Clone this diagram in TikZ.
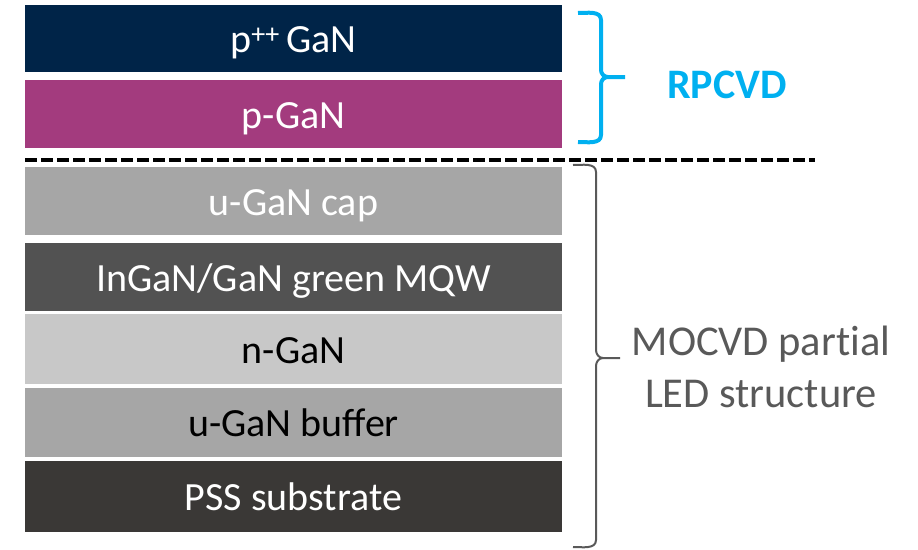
\documentclass[tikz,border=0pt]{standalone}
\usepackage{fontspec}
\setmainfont{Carlito}
\usepackage{tikz}
\usetikzlibrary{positioning, calc}
\usepackage{xcolor}
\definecolor{navy}{RGB}{0,36,72}
\definecolor{plum}{RGB}{163,59,126}
\definecolor{capgray}{RGB}{166,166,166}
\definecolor{mqwgray}{RGB}{82,82,82}
\definecolor{ngray}{RGB}{200,200,200}
\definecolor{pssgray}{RGB}{58,56,54}
\definecolor{rpblue}{RGB}{0,176,240}
\definecolor{labelgray}{RGB}{89,89,89}

\begin{document}
\begin{tikzpicture}[x=1pt, y=-1pt,
  layer/.style={rectangle, inner sep=0pt, minimum width=537pt, text height=34pt, text depth=6pt,
    font=\fontsize{40}{46}\selectfont},
  divider/.style={line width=3.5pt, dash pattern=on 12pt off 4pt},
  bracket/.style={line width=#1, line join=round}]
  \useasboundingbox (0,0) rectangle (918,549);
  % RPCVD layers
  \node[layer, fill=navy, text=white, minimum height=67pt] (ppp) at (293.5,38.5) {p\textsuperscript{++}\,GaN};
  \node[layer, fill=plum, text=white, minimum height=68pt] (pgan) at (293.5,114) {p-GaN};
  \draw[divider] (25,160) -- (815,160);
  % MOCVD layers
  \node[layer, fill=capgray, text=white, minimum height=68pt] (cap) at (293.5,201) {u-GaN cap};
  \node[layer, fill=mqwgray, text=white, minimum height=68pt] (mqw) at (293.5,277) {InGaN/GaN green MQW};
  \node[layer, fill=ngray, text=black, minimum height=70pt] (ngan) at (293.5,349) {n-GaN};
  \node[layer, fill=capgray, text=black, minimum height=69pt] (buffer) at (293.5,422.5) {u-GaN buffer};
  \node[layer, fill=pssgray, text=white, minimum height=71pt] (pss) at (293.5,496.5) {PSS substrate};
  % brackets
  \draw[bracket=4pt, rpblue] (578,13) to[out=0, in=90] (601,20) -- (601,70) to[out=-90, in=180] (608,77) -- (625,77);
  \draw[bracket=4pt, rpblue] (578,142) to[out=0, in=-90] (601,135) -- (601,84) to[out=90, in=180] (608,77);
  \draw[bracket=2pt, labelgray] (573,165) to[out=0, in=90] (596,172) -- (596,350) to[out=-90, in=180] (603,358) -- (620,358);
  \draw[bracket=2pt, labelgray] (573,547) to[out=0, in=-90] (596,540) -- (596,366) to[out=90, in=180] (603,358);
  \node[text=rpblue, font=\fontsize{42}{50}\selectfont\bfseries] (rpcvd) at (727,85) {RPCVD};
  \node[text=labelgray, align=center, font=\fontsize{42.5}{52}\selectfont\addfontfeatures{Ligatures=NoCommon}] (mocvd) at (761,367) {MOCVD partial\\LED structure};
\end{tikzpicture}
\end{document}
